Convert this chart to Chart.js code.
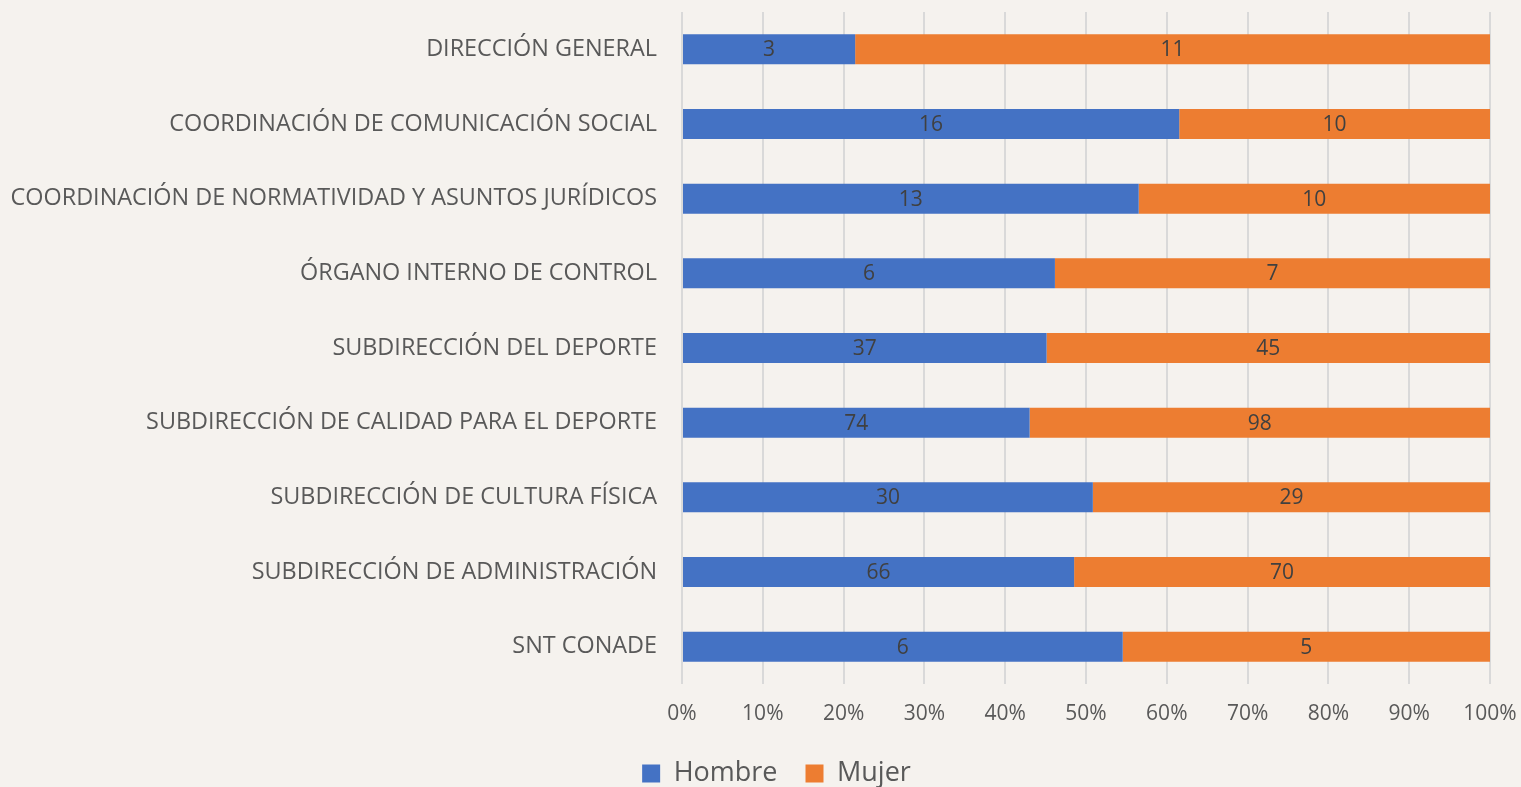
<!DOCTYPE html>
<html>
<head>
<meta charset="utf-8">
<script src="https://cdn.jsdelivr.net/npm/chart.js@4/dist/chart.umd.min.js"></script>
<style>
  html, body { margin: 0; padding: 0; background: #f5f2ee; }
  #wrap { width: 1521px; height: 787px; position: relative; }
</style>
</head>
<body>
<div id="wrap"><canvas id="chart"></canvas></div>
<script>
// categorias y conteos por sexo
const areas = [
  "DIRECCIÓN GENERAL",
  "COORDINACIÓN DE COMUNICACIÓN SOCIAL",
  "COORDINACIÓN DE NORMATIVIDAD Y ASUNTOS JURÍDICOS",
  "ÓRGANO INTERNO DE CONTROL",
  "SUBDIRECCIÓN DEL DEPORTE",
  "SUBDIRECCIÓN DE CALIDAD PARA EL DEPORTE",
  "SUBDIRECCIÓN DE CULTURA FÍSICA",
  "SUBDIRECCIÓN DE ADMINISTRACIÓN",
  "SNT CONADE"
];
const hombre = [3, 16, 13, 6, 37, 74, 30, 66, 6];
const mujer = [11, 10, 10, 7, 45, 98, 29, 70, 5];
const xTicks = [0, 10, 20, 30, 40, 50, 60, 70, 80, 90, 100];

// 100% apilado: porcentaje de cada grupo
const pct = (arr, i) => arr[i] / (hombre[i] + mujer[i]) * 100;
const hombrePct = hombre.map((v, i) => pct(hombre, i));
const mujerPct = mujer.map((v, i) => pct(mujer, i));

const fontFam = "'Open Sans', sans-serif";

// etiquetas con el conteo en el centro de cada segmento
const countLabels = {
  id: "countLabels",
  afterDatasetsDraw(chart) {
    const ctx = chart.ctx;
    ctx.save();
    ctx.fillStyle = "#404040";
    ctx.font = "21px " + fontFam;
    ctx.textAlign = "center";
    ctx.textBaseline = "middle";
    chart.data.datasets.forEach((ds, di) => {
      const meta = chart.getDatasetMeta(di);
      meta.data.forEach((bar, i) => {
        const p = bar.getProps(["x", "y", "base"], true);
        ctx.fillText(ds.counts[i], (p.x + p.base) / 2, p.y + 1);
      });
    });
    ctx.restore();
  }
};

// la leyenda del original va algo corrida a la derecha
const legendShift = {
  id: "legendShift",
  afterLayout(chart) {
    const lg = chart.legend;
    lg.left = 32;
    lg.width = lg.right - lg.left;
  }
};

const chart = new Chart(document.getElementById("chart"), {
  type: "bar",
  data: {
    labels: areas,
    datasets: [
      { label: "Hombre", data: hombrePct, counts: hombre, backgroundColor: "#4472c4" },
      { label: "Mujer", data: mujerPct, counts: mujer, backgroundColor: "#ed7d31" }
    ]
  },
  options: {
    indexAxis: "y",
    responsive: true,
    maintainAspectRatio: false,
    animation: false,
    layout: { padding: { top: 12, right: 0, left: 0, bottom: -10 } },
    datasets: { bar: { barPercentage: 0.6, categoryPercentage: 0.67 } },
    scales: {
      x: {
        stacked: true,
        min: 0,
        max: 100,
        afterBuildTicks(scale) { scale.ticks = xTicks.map(v => ({ value: v })); },
        afterFit(scale) {
          scale.height = 48;
          scale.paddingLeft = 0;
          scale.paddingRight = 31;
        },
        grid: { color: "#d9d9d9", lineWidth: 2, drawTicks: false },
        border: { display: false },
        ticks: {
          color: "#595959",
          font: { family: fontFam, size: 21 },
          padding: 17,
          callback: v => v + "%"
        }
      },
      y: {
        stacked: true,
        grid: { display: false },
        border: { display: false },
        afterFit(scale) {
          scale.width = 682;
          scale.paddingTop = 0;
          scale.paddingBottom = 0;
        },
        ticks: {
          color: "#595959",
          font: { family: fontFam, size: 23.4 },
          padding: 17
        }
      }
    },
    plugins: {
      legend: {
        position: "bottom",
        labels: {
          color: "#595959",
          font: { family: fontFam, size: 27 },
          boxWidth: 18,
          boxHeight: 18,
          padding: 28
        }
      },
      tooltip: { enabled: false }
    }
  },
  plugins: [countLabels, legendShift]
});
</script>
</body>
</html>
